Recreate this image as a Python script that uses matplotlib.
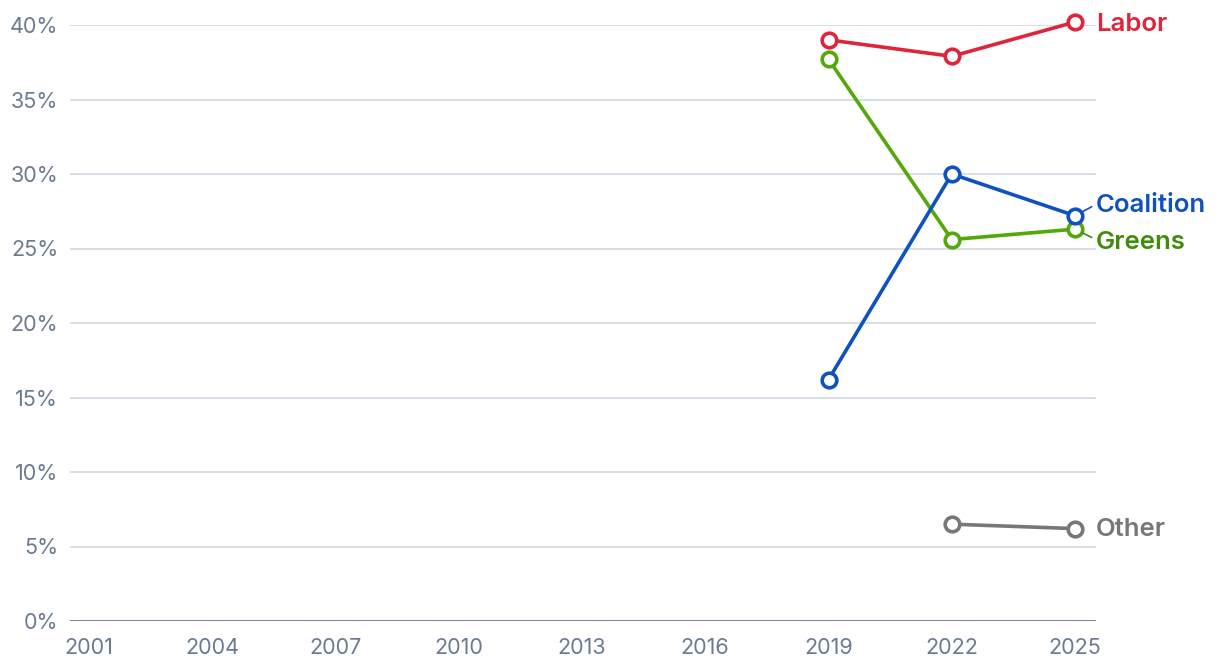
import matplotlib
matplotlib.use("Agg")
import matplotlib.pyplot as plt

years = [2019, 2022, 2025]
labor = [39.0, 37.9, 40.2]
greens = [37.7, 25.6, 26.3]
coalition = [16.2, 30.0, 27.2]
other_years = [2022, 2025]
other = [6.5, 6.2]

xticks = [2001, 2004, 2007, 2010, 2013, 2016, 2019, 2022, 2025]
yticks = [0, 5, 10, 15, 20, 25, 30, 35, 40]

plt.rcParams['font.family'] = ['Inter', 'DejaVu Sans']

fig = plt.figure(figsize=(12.2, 6.68), dpi=100)
ax = fig.add_axes([70/1220, 47/668, (1096-70)/1220, (621-25)/668])

tick_color = '#6b7a90'
grid_color = '#d5dae3'

for v in yticks[1:]:
    ax.axhline(v, color=grid_color, lw=1.3, zorder=1)
ax.axhline(0, color=tick_color, lw=2, zorder=2)

series = [
    (years, labor, '#e0243a'),
    (years, greens, '#55a80a'),
    (years, coalition, '#0f52bf'),
    (other_years, other, '#777777'),
]
for xs, ys, c in series:
    ax.plot(xs, ys, color=c, lw=2.6, zorder=3, clip_on=False,
            marker='o', ms=10.5, mfc='white', mec=c, mew=2.6)

label_kw = dict(fontsize=18.5, fontweight='semibold', va='center', ha='left',
                textcoords='offset points', annotation_clip=False)
ax.annotate('Labor', xy=(2025, labor[-1]), xytext=(15, -1.5), color='#e0243a', **label_kw)
ax.annotate('Other', xy=(2025, other[-1]), xytext=(15, -0.5), color='#777777', **label_kw)
ax.annotate('Coalition', xy=(2025, coalition[-1]), xytext=(15, 7.5), color='#0f52bf', **label_kw)
ax.annotate('Greens', xy=(2025, greens[-1]), xytext=(15, -9.5), color='#3f8c08', **label_kw)
# leader lines
ax.annotate('', xy=(2025, coalition[-1]), xytext=(12, 6.5), textcoords='offset points',
            annotation_clip=False,
            arrowprops=dict(arrowstyle='-', color='#0f52bf', lw=1.2, shrinkA=0, shrinkB=6))
ax.annotate('', xy=(2025, greens[-1]), xytext=(12, -6), textcoords='offset points',
            annotation_clip=False,
            arrowprops=dict(arrowstyle='-', color='#3f8c08', lw=1.2, shrinkA=0, shrinkB=6))

ax.set_xlim(2000.54, 2025.51)
ax.set_ylim(0, 40)
ax.set_xticks(xticks)
ax.set_xticklabels([str(x) for x in xticks])
ax.set_yticks(yticks)
ax.set_yticklabels([f'{y}%' for y in yticks])
ax.tick_params(axis='both', length=0, labelsize=15.5, labelcolor=tick_color)
ax.tick_params(axis='y', pad=8.5)
ax.tick_params(axis='x', pad=12.5)
for s in ax.spines.values():
    s.set_visible(False)
ax.set_facecolor('none')

fig.savefig('out.png', dpi=100)
